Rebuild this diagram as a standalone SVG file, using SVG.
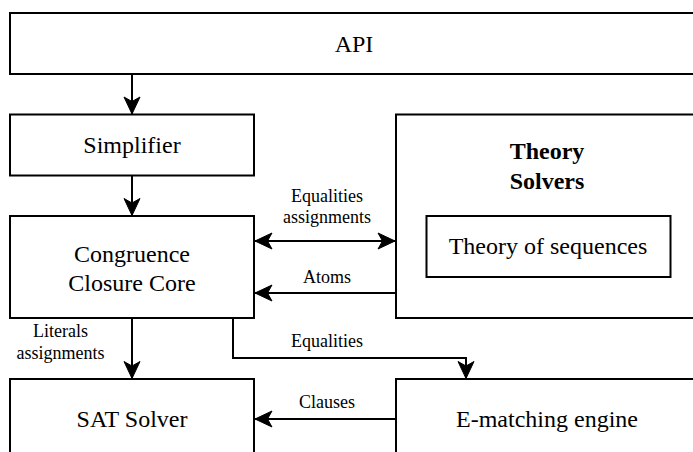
<svg xmlns="http://www.w3.org/2000/svg" width="693" height="452" viewBox="0 0 693 452">
<defs>
<style>
.box{fill:#fff;stroke:#000;stroke-width:2}
.t{font-family:"Liberation Serif","Times New Roman",serif;font-size:24px;fill:#000;text-anchor:middle}
.b{font-weight:bold}
.lbl{font-family:"Liberation Serif","Times New Roman",serif;font-size:18px;fill:#000;text-anchor:middle}
.c{fill:none;stroke:#000;stroke-width:2}
</style>
<marker id="ah" viewBox="-18 -9 20 18" refX="0" refY="0" markerWidth="20" markerHeight="18" markerUnits="userSpaceOnUse" orient="auto-start-reverse">
<path d="M0,0 L-17,-8 L-12.5,0 L-17,8 Z" fill="#000" stroke="#000" stroke-width="1"/>
</marker>
</defs>
<rect width="693" height="452" fill="#fff"/>
<g id="api">
<rect class="box" x="10" y="13" width="688" height="61"/>
<text class="t" x="354" y="52">API</text>
</g>
<g id="simplifier">
<rect class="box" x="10" y="114.5" width="244" height="61"/>
<text class="t" x="132" y="152.5">Simplifier</text>
</g>
<g id="ccc">
<rect class="box" x="10" y="216" width="244" height="102"/>
<text class="t" x="132" y="262">Congruence</text>
<text class="t" x="132" y="291">Closure Core</text>
</g>
<g id="theory-solvers">
<rect class="box" x="396" y="114.5" width="302" height="203.5"/>
<text class="t b" x="547" y="159">Theory</text>
<text class="t b" x="547" y="189">Solvers</text>
</g>
<g id="theory-of-sequences">
<rect class="box" x="426.5" y="216" width="244" height="61"/>
<text class="t" x="548" y="254">Theory of sequences</text>
</g>
<g id="sat">
<rect class="box" x="10" y="379" width="244" height="102"/>
<text class="t" x="132" y="427">SAT Solver</text>
</g>
<g id="ematching">
<rect class="box" x="396" y="379" width="302" height="102"/>
<text class="t" x="547" y="427">E-matching engine</text>
</g>
<g id="connectors">
<path class="c" d="M132,74 L132,114" marker-end="url(#ah)"/>
<path class="c" d="M132,175.5 L132,215.5" marker-end="url(#ah)"/>
<path class="c" d="M255,241 L395,241" marker-start="url(#ah)" marker-end="url(#ah)"/>
<path class="c" d="M396,266 L396,293 L255,293" marker-end="url(#ah)"/>
<path class="c" d="M132,318 L132,378.5" marker-end="url(#ah)"/>
<path class="c" d="M233,318 L233,358 L466,358 L466,378.5" marker-end="url(#ah)"/>
<path class="c" d="M396,419 L255,419" marker-end="url(#ah)"/>
<text class="lbl" x="327" y="201.5">Equalities</text>
<text class="lbl" x="327" y="222.5">assignments</text>
<text class="lbl" x="327" y="282.5">Atoms</text>
<text class="lbl" x="60.5" y="337">Literals</text>
<text class="lbl" x="60.5" y="359">assignments</text>
<text class="lbl" x="327" y="346.5">Equalities</text>
<text class="lbl" x="327" y="407.5">Clauses</text>
</g>
</svg>
